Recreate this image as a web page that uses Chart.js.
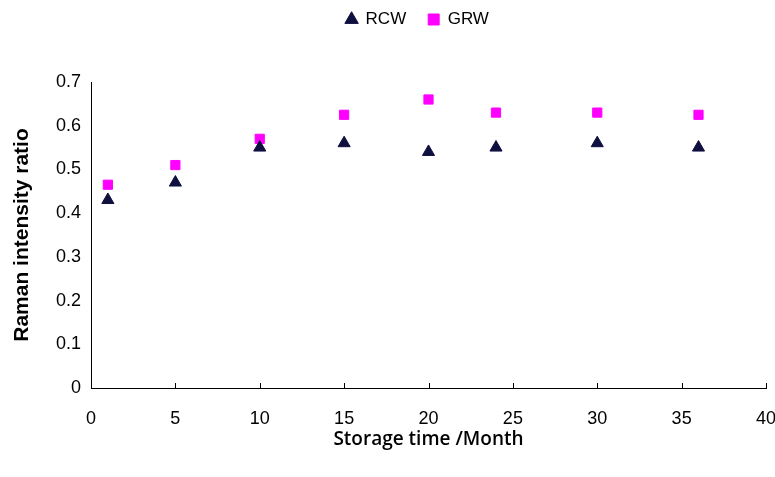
<!DOCTYPE html>
<html>
<head>
<meta charset="utf-8">
<script src="https://cdn.jsdelivr.net/npm/chart.js@4"></script>
<style>
  html, body { margin: 0; padding: 0; background: #fff; }
  #wrap { width: 775px; height: 477px; }
</style>
</head>
<body>
<div id="wrap"><canvas id="ramanChart"></canvas></div>
<script>
// data
const months = [1, 5, 10, 15, 20, 24, 30, 36];
const rcwValues = [0.43, 0.47, 0.55, 0.56, 0.54, 0.55, 0.56, 0.55];
const grwValues = [0.465, 0.51, 0.57, 0.625, 0.66, 0.63, 0.63, 0.625];
const xTicks = [0, 5, 10, 15, 20, 25, 30, 35, 40];
const yTicks = [0, 0.1, 0.2, 0.3, 0.4, 0.5, 0.6, 0.7];

const tickFont = { family: "'Liberation Sans', Arial, sans-serif", size: 18 };

// x ticks point up into the plot, like the original
const innerTicks = {
  id: "innerTicks",
  afterDraw(chart) {
    const x = chart.scales.x;
    const c = chart.ctx;
    c.save();
    c.strokeStyle = "#000";
    c.lineWidth = 1;
    xTicks.forEach(v => {
      const px = Math.round(x.getPixelForValue(v)) + 0.5;
      c.beginPath();
      c.moveTo(px, x.top);
      c.lineTo(px, x.top - 5);
      c.stroke();
    });
    c.restore();
  }
};

// extra space under the legend, and legend nudged over the plot
const legendGap = {
  id: "legendGap",
  beforeInit(chart) {
    const fit = chart.legend.fit;
    chart.legend.fit = function () {
      fit.bind(chart.legend)();
      this.height += 33;
    };
  },
  afterLayout(chart) {
    chart.legend.left += 30;
    chart.legend.right += 30;
    chart.legend.top -= 11;
  }
};

new Chart(document.getElementById("ramanChart").getContext("2d"), {
  type: "scatter",
  data: {
    datasets: [
      {
        label: "RCW",
        data: months.map((m, i) => ({ x: m, y: rcwValues[i] })),
        pointStyle: "triangle",
        pointRadius: 7,
        backgroundColor: "#0f0f40",
        borderColor: "#0f0f40",
      },
      {
        label: "GRW",
        data: months.map((m, i) => ({ x: m, y: grwValues[i] })),
        pointStyle: "rect",
        pointRadius: 6.5,
        backgroundColor: "#ff00ff",
        borderColor: "#ff00ff",
      },
    ],
  },
  plugins: [innerTicks, legendGap],
  options: {
    responsive: true,
    maintainAspectRatio: false,
    animation: false,
    layout: { padding: { left: 0, right: 0, top: 0, bottom: 22 } },
    plugins: {
      legend: {
        position: "top",
        labels: {
          usePointStyle: true,
          boxWidth: 11,
          boxHeight: 11,
          padding: 22,
          color: "#000",
          font: { family: "'Liberation Sans', Arial, sans-serif", size: 17 },
        },
      },
      tooltip: { enabled: false },
    },
    scales: {
      x: {
        type: "linear",
        min: 0,
        max: 40,
        afterBuildTicks: (s) => { s.ticks = xTicks.map(v => ({ value: v })); },
        afterFit: (s) => { s.height = 67; s.paddingRight = 9; },
        border: { color: "#000", width: 1 },
        grid: { display: false, drawTicks: false },
        ticks: { color: "#000", font: tickFont, padding: 20, maxRotation: 0 },
        title: {
          display: true,
          text: "Storage time /Month",
          color: "#000",
          font: { family: "'Open Sans', sans-serif", size: 19, weight: "600" },
          padding: { top: 6 },
        },
      },
      y: {
        min: 0,
        max: 0.7,
        afterBuildTicks: (s) => { s.ticks = yTicks.map(v => ({ value: v })); },
        afterFit: (s) => { s.width = 91; },
        border: { color: "#000", width: 1 },
        grid: { display: false, drawOnChartArea: false, drawTicks: true, tickLength: 5, color: "#000" },
        ticks: {
          color: "#000",
          font: tickFont,
          padding: 5,
          callback: (v) => (v === 0 ? "0" : v.toFixed(1)),
        },
        title: {
          display: true,
          text: "Raman intensity ratio",
          color: "#000",
          font: { family: "'Liberation Sans', Arial, sans-serif", size: 21, weight: "bold" },
          padding: { top: 10, bottom: 4 },
        },
      },
    },
  },
});
</script>
</body>
</html>
